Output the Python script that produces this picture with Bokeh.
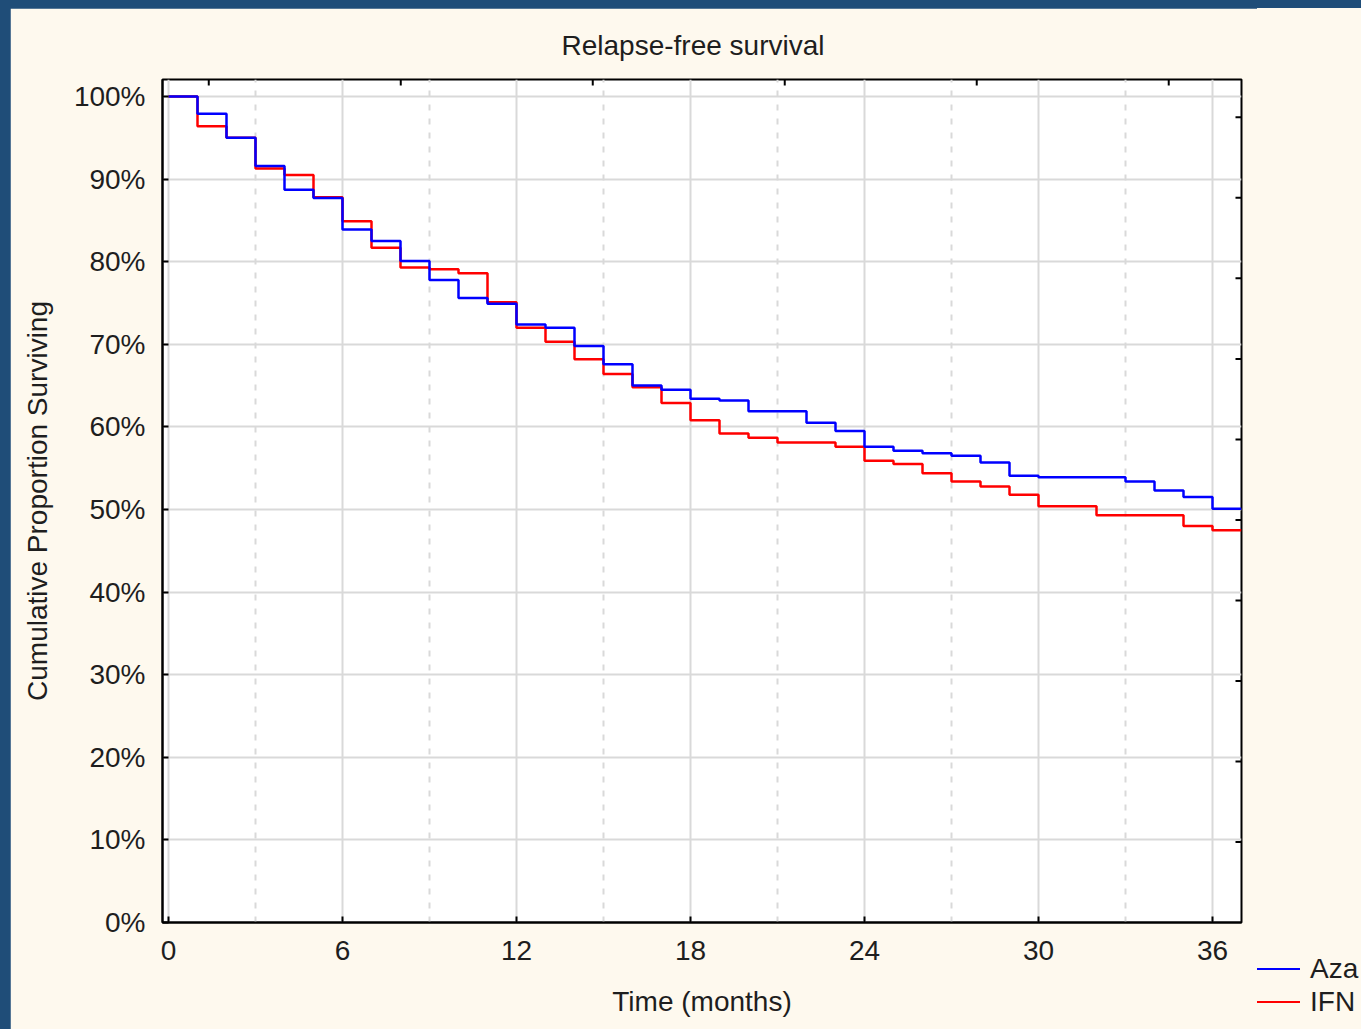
import math

from bokeh.plotting import figure
from bokeh.models import (FixedTicker, PrintfTickFormatter, Range1d, Div)
from bokeh.layouts import row
from bokeh.embed import file_html
from bokeh.resources import INLINE

# Kaplan-Meier relapse-free survival estimates (% surviving after each month)
months_aza = [0, 1, 2, 3, 4, 5, 6, 7, 8, 9, 10, 11, 12, 13, 14, 15, 16, 17, 18, 19,
              20, 22, 23, 24, 25, 26, 27, 28, 29, 30, 33, 34, 35, 36, 37]
surv_aza = [100, 97.9, 95.0, 91.6, 88.7, 87.7, 83.9, 82.5, 80.1, 77.8, 75.6, 74.9,
            72.4, 72.0, 69.8, 67.6, 65.0, 64.5, 63.4, 63.2, 61.9, 60.5, 59.5, 57.6,
            57.1, 56.8, 56.5, 55.7, 54.1, 53.9, 53.4, 52.3, 51.5, 50.1, 50.1]

months_ifn = [0, 1, 2, 3, 4, 5, 6, 7, 8, 9, 10, 11, 12, 13, 14, 15, 16, 17, 18, 19,
              20, 21, 23, 24, 25, 26, 27, 28, 29, 30, 32, 35, 36, 37]
surv_ifn = [100, 96.4, 95.0, 91.3, 90.5, 87.8, 84.9, 81.7, 79.3, 79.1, 78.6, 75.1,
            72.0, 70.3, 68.2, 66.4, 64.8, 62.9, 60.8, 59.2, 58.7, 58.1, 57.6, 55.9,
            55.5, 54.4, 53.4, 52.8, 51.8, 50.4, 49.3, 48.0, 47.5, 47.5]

group_names = ["Aza", "IFN"]
group_colors = ["#0000FF", "#FF0000"]

x_ticks = [0, 6, 12, 18, 24, 30, 36]
x_minor_ticks = [3, 9, 15, 21, 27, 33]
y_ticks = [0, 10, 20, 30, 40, 50, 60, 70, 80, 90, 100]
# unlabelled secondary scales along the top and right edges
top_ticks = [0, 1, 2, 3, 4, 5]
right_ticks = [1, 2, 3, 4, 5, 6, 7, 8, 9, 10]

FONT = "Liberation Sans"
TEXT = "#1e1e1e"
FS = "28px"
CREAM = "#FEF9EE"
NAVY = "#1F4D78"

p = figure(width=1247, height=1021,
           x_range=Range1d(-0.207, 37.0), y_range=Range1d(0, 102.06),
           output_backend="svg", toolbar_location=None,
           min_border_left=152, min_border_right=16,
           min_border_top=71, min_border_bottom=107,
           background_fill_color="white", border_fill_color=CREAM,
           title="Relapse-free survival")

p.title.align = "left"
p.title.offset = 399
p.title.text_font = FONT
p.title.text_font_size = FS
p.title.text_font_style = "normal"
p.title.text_color = TEXT
p.title.standoff = 38

p.outline_line_color = "black"
p.outline_line_width = 2

# bottom axis: months
xa = p.xaxis[0]
xa.ticker = FixedTicker(ticks=x_ticks, minor_ticks=x_minor_ticks)
xa.axis_label = "Time (months)"
# left axis: percent surviving
ya = p.yaxis[0]
ya.ticker = FixedTicker(ticks=y_ticks)
ya.formatter = PrintfTickFormatter(format="%d%%")
ya.axis_label = "Cumulative Proportion Surviving"

for ax in (xa, ya):
    ax.axis_line_color = "black"
    ax.axis_line_width = 2
    ax.major_tick_in = 6
    ax.major_tick_out = 0
    ax.major_tick_line_width = 2
    ax.major_tick_line_color = "black"
    ax.minor_tick_line_color = None
    ax.major_label_text_font = FONT
    ax.major_label_text_font_size = FS
    ax.major_label_text_color = TEXT
    ax.axis_label_text_font = FONT
    ax.axis_label_text_font_size = FS
    ax.axis_label_text_font_style = "normal"
    ax.axis_label_text_color = TEXT
xa.major_label_standoff = 14
xa.axis_label_standoff = 23
ya.major_label_standoff = 17
ya.axis_label_standoff = 18

# grid: solid at major months / every 10%, dashed at the quarter-year months
p.xgrid.grid_line_color = "#d9d9d9"
p.xgrid.grid_line_width = 2
p.xgrid.minor_grid_line_color = "#d9d9d9"
p.xgrid.minor_grid_line_width = 2
p.xgrid.minor_grid_line_dash = "6 8"
p.ygrid.grid_line_color = "#d9d9d9"
p.ygrid.grid_line_width = 2

# inward tick marks of the secondary scales
p.extra_x_ranges = {"top": Range1d(-0.241, 5.379)}
p.extra_y_ranges = {"right": Range1d(0, 10.47)}
p.ray(x=top_ticks, y=[p.y_range.end] * len(top_ticks), length=6,
      length_units="screen", angle=-math.pi / 2, x_range_name="top",
      line_color="black", line_width=2)
p.ray(x=[p.x_range.end] * len(right_ticks), y=right_ticks, length=6,
      length_units="screen", angle=math.pi, y_range_name="right",
      line_color="black", line_width=2)

p.step(months_ifn, surv_ifn, mode="after", line_color=group_colors[1], line_width=2.5)
p.step(months_aza, surv_aza, mode="after", line_color=group_colors[0], line_width=2.5)

# legend keys in a strip to the right of the plot
key_rows = []
for i, (name, color) in enumerate(zip(group_names, group_colors)):
    top = 945 + 33 * i
    key_rows.append(
        f'<div style="position:absolute;left:0;top:{top}px;height:32px;'
        f'display:flex;align-items:center;white-space:nowrap;">'
        f'<span style="display:inline-block;width:43px;height:0;'
        f'border-top:2px solid {color};margin-right:10px;"></span>'
        f'<span>{name}</span></div>')
legend_html = (f'<div style="position:relative;width:104px;height:1021px;overflow:hidden;'
               f'background-color:{CREAM};'
               f'font-family:\'{FONT}\';font-size:{FS};color:{TEXT};line-height:32px;">'
               + "".join(key_rows) + '</div>')
legend_strip = Div(text=legend_html, width=104, height=1021,
                   styles={"background-color": CREAM})

p.margin = (8, 0, 0, 10)
legend_strip.margin = (8, 0, 0, 0)
page = row(p, legend_strip, width=1361, height=1029,
           styles={"background-color": NAVY})

open("out.html", "w").write(file_html(page, INLINE))
